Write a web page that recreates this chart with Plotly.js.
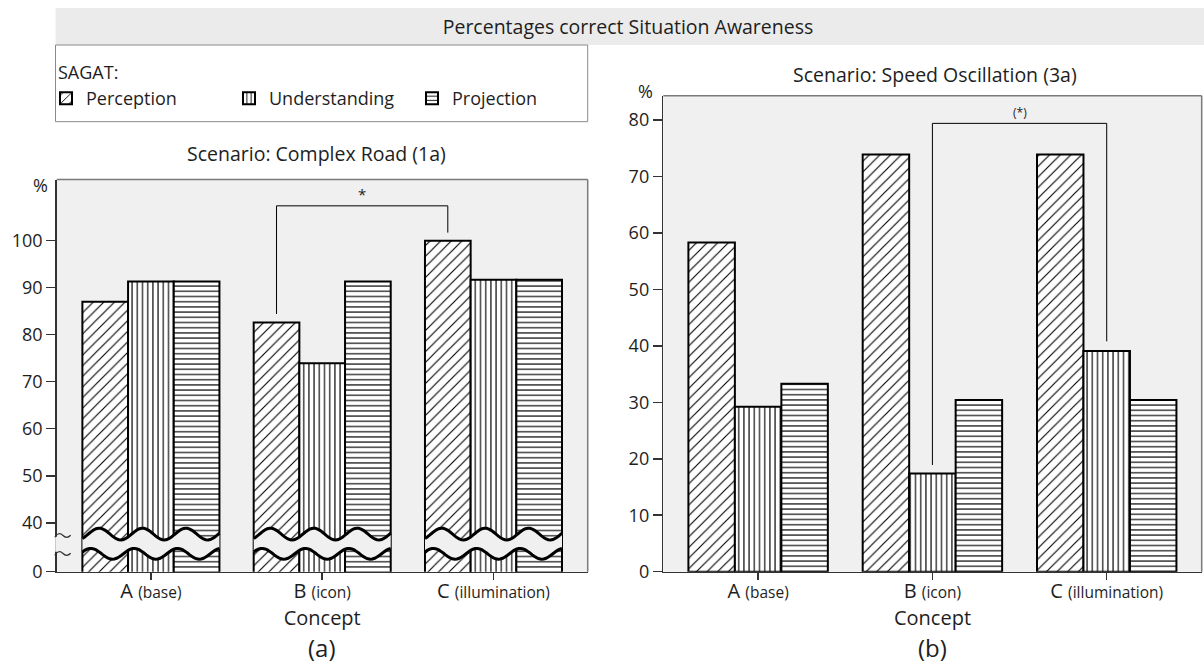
<!DOCTYPE html>
<html><head><meta charset="utf-8">
<script src="https://cdn.plot.ly/plotly-3.0.1.min.js"></script>
<style>html,body{margin:0;padding:0;background:#fff}#chart{width:1204px;height:668px}</style>
</head><body><div id="chart"></div>
<script>
// ---------------- data ----------------
const categories = ['A', 'B', 'C'];
const categoryNotes = ['(base)', '(icon)', '(illumination)'];
const seriesNames = ['Perception', 'Understanding', 'Projection'];

// Scenario: Complex Road (1a), percent correct
const roadPerception    = [87.0, 82.6, 100.0];
const roadUnderstanding = [91.3, 73.9, 91.7];
const roadProjection    = [91.3, 91.3, 91.7];

// Scenario: Speed Oscillation (3a), percent correct
const speedPerception    = [58.3, 73.9, 73.9];
const speedUnderstanding = [29.2, 17.4, 39.1];
const speedProjection    = [33.3, 30.4, 30.4];

const roadTickVals  = [40, 50, 60, 70, 80, 90, 100];
const speedTickVals = [0, 10, 20, 30, 40, 50, 60, 70, 80];

// ---------------- styling / geometry ----------------
const W = 1204, H = 668;
const px = v => v / W;
const py = v => 1 - v / H;
const FONT = 'Open Sans, Noto Sans, DejaVu Sans, sans-serif';
const TXT = '#1e1e1e';
const PLOTBG = '#f0f0f0';
const BARGAP = 0.2;
const BARW = (1 - BARGAP) / 3;
const ROAD_AXIS_BOTTOM = 29.6;   // where the broken axis shows "0"

const patterns = [
  {shape: '/', size: 7.5, solidity: 0.15},
  {shape: '|', size: 5.2, solidity: 0.22},
  {shape: '-', size: 5.2, solidity: 0.22}
];

function makeTraces(seriesList, xa, ya, showlegend) {
  return seriesList.map((vals, i) => ({
    type: 'bar', name: seriesNames[i], x: categories, y: vals,
    xaxis: xa, yaxis: ya, showlegend: showlegend, hoverinfo: 'skip',
    marker: {
      color: '#ffffff',
      line: {color: '#000000', width: 2},
      pattern: {shape: patterns[i].shape, size: patterns[i].size, solidity: patterns[i].solidity,
                fgcolor: '#000000', bgcolor: '#ffffff'}
    }
  }));
}

const data = [
  ...makeTraces([roadPerception, roadUnderstanding, roadProjection], 'x', 'y', true),
  ...makeTraces([speedPerception, speedUnderstanding, speedProjection], 'x2', 'y2', false)
];

const tickText = categories.map((c, i) => c + ' <span style="font-size:15.5px">' + categoryNotes[i] + '</span>');

// ---------------- shapes ----------------
const shapes = [];
// title band
shapes.push({type: 'rect', xref: 'paper', yref: 'paper', x0: px(55.5), x1: 1, y0: py(45), y1: py(8),
  fillcolor: '#ebebeb', line: {width: 0}, layer: 'below'});
// legend box
shapes.push({type: 'rect', xref: 'paper', yref: 'paper', x0: px(55.5), x1: px(587.7), y0: py(121.7), y1: py(45),
  fillcolor: '#ffffff', line: {color: '#8a8a8a', width: 1}, layer: 'below'});
// top/right box edges of both plots
[['x', 'y'], ['x2', 'y2']].forEach(([xa, ya]) => {
  shapes.push({type: 'line', xref: xa + ' domain', yref: ya + ' domain', x0: 0, x1: 1, y0: 1, y1: 1,
    line: {color: '#7a7a7a', width: 1.5}, layer: 'above'});
  shapes.push({type: 'line', xref: xa + ' domain', yref: ya + ' domain', x0: 1, x1: 1, y0: 0, y1: 1,
    line: {color: '#7a7a7a', width: 1.5}, layer: 'above'});
});

// axis break (wavy) over the bars of the left chart
const BRK = {up: 37.6, low: 33.4, ampUp: 1.25, ampLow: 1.15, pxPerX: 171.2};
function wave(x0, x1, c, amp, peakPx, dir) {
  const period = BARW * 0.95;
  const peak = peakPx / BRK.pxPerX;
  const pts = [];
  const n = 60;
  for (let k = 0; k <= n; k++) {
    const x = x0 + (x1 - x0) * k / n;
    const y = c + amp * Math.sin(2 * Math.PI * (x - x0 - peak) / period + Math.PI / 2);
    pts.push([x, y]);
  }
  if (dir < 0) pts.reverse();
  return pts;
}
const ptsToPath = (pts, start) => pts.map((p, k) => (k === 0 && start ? 'M' : 'L') + p[0].toFixed(4) + ',' + p[1].toFixed(3)).join(' ');
categories.forEach((c, i) => {
  const x0 = i - (1 - BARGAP) / 2, x1 = i + (1 - BARGAP) / 2;
  const up = wave(x0, x1, BRK.up, BRK.ampUp, 16.7, 1);
  const low = wave(x0, x1, BRK.low, BRK.ampLow, 8.4, -1);
  shapes.push({type: 'path', xref: 'x', yref: 'y', path: ptsToPath(up, true) + ' ' + ptsToPath(low, false) + ' Z',
    fillcolor: PLOTBG, line: {width: 0}, layer: 'above'});
  shapes.push({type: 'path', xref: 'x', yref: 'y', path: ptsToPath(up, true),
    line: {color: '#000', width: 3}, layer: 'above'});
  shapes.push({type: 'path', xref: 'x', yref: 'y', path: ptsToPath(wave(x0, x1, BRK.low, BRK.ampLow, 8.4, 1), true),
    line: {color: '#000', width: 3}, layer: 'above'});
});
// break marks on the left y axis
shapes.push({type: 'rect', xref: 'x domain', yref: 'y', xsizemode: 'pixel', xanchor: 0, x0: -1.5, x1: 1.5,
  ysizemode: 'pixel', yanchor: 40, y0: -14, y1: -29, fillcolor: PLOTBG, line: {width: 0}, layer: 'above'});
[-12.5, -30.5].forEach(dy => {
  shapes.push({type: 'path', xref: 'x domain', yref: 'y', xsizemode: 'pixel', xanchor: 0,
    ysizemode: 'pixel', yanchor: 40,
    path: `M-2,${dy - 2} Q2,${dy + 4} 6,${dy} T14,${dy}`,
    line: {color: '#333', width: 1.2}, layer: 'above'});
});

// significance brackets
function bracket(xa, ya, xL, xR, top, yL, yR) {
  shapes.push({type: 'path', xref: xa, yref: ya,
    path: `M${xL},${yL} L${xL},${top} L${xR},${top} L${xR},${yR}`,
    line: {color: '#000', width: 1}, layer: 'above'});
}
bracket('x', 'y', 1 - BARW, 2 - BARW, 107.4, roadPerception[1] + 1.8, roadPerception[2] + 1.7);
bracket('x2', 'y2', 1, 2, 79.4, speedUnderstanding[1] + 1.5, speedUnderstanding[2] + 1.7);

// ---------------- annotations ----------------
const ann = (x, y, text, size, extra) => Object.assign({xref: 'paper', yref: 'paper', x: px(x), y: py(y),
  text: text, showarrow: false, xanchor: 'center', yanchor: 'middle', font: {size: size, color: TXT}}, extra || {});
const annotations = [
  ann(316, 153, 'Scenario: Complex Road (1a)', 19.5),
  ann(935, 74, 'Scenario: Speed Oscillation (3a)', 19.5),
  ann(40, 185, '%', 18),
  ann(645, 91, '%', 18),
  ann(322, 647, '(a)', 24),
  ann(932, 647, '(b)', 24),
  ann(56, 72, 'SAGAT:', 18, {xanchor: 'left'}),
  {xref: 'x', yref: 'y', x: 1.5 - BARW, y: 107.4, text: '*', showarrow: false, yanchor: 'bottom', font: {size: 15, color: TXT}},
  {xref: 'x2', yref: 'y2', x: 1.5, y: 79.4, text: '(*)', showarrow: false, yanchor: 'bottom', font: {size: 12, color: TXT}}
];

// ---------------- axes ----------------
const xCommon = {
  type: 'category', tickmode: 'array', tickvals: categories, ticktext: tickText,
  ticks: 'outside', ticklen: 7, tickwidth: 1.5, tickcolor: '#333', ticklabelstandoff: -6,
  showline: true, linecolor: '#333', linewidth: 1.5, showgrid: false, zeroline: false,
  tickfont: {size: 20, color: TXT}, fixedrange: true,
  title: {text: 'Concept', font: {size: 20, color: TXT}, standoff: 0}
};
const yCommon = {
  ticks: 'outside', ticklen: 9, tickwidth: 1.5, tickcolor: '#333',
  showline: true, linecolor: '#333', linewidth: 1.5, showgrid: false, zeroline: false,
  tickfont: {size: 18, color: TXT}, fixedrange: true, tickmode: 'array'
};

const layout = {
  width: W, height: H, margin: {l: 0, r: 0, t: 0, b: 0},
  paper_bgcolor: '#ffffff', plot_bgcolor: PLOTBG,
  font: {family: FONT, size: 16, color: TXT},
  barmode: 'group', bargap: BARGAP, bargroupgap: 0,
  title: {text: 'Percentages correct Situation Awareness', x: px(628), xanchor: 'center', y: py(27), yanchor: 'middle',
    font: {size: 19.5, color: TXT}},
  xaxis: Object.assign({}, xCommon, {domain: [px(56.7), px(587.7)], range: [-0.55, 2.55], anchor: 'y'}),
  yaxis: Object.assign({}, yCommon, {domain: [py(571.7), py(179.5)], range: [ROAD_AXIS_BOTTOM, 113],
    tickvals: [ROAD_AXIS_BOTTOM, ...roadTickVals], ticktext: ['0', ...roadTickVals.map(String)], anchor: 'x'}),
  xaxis2: Object.assign({}, xCommon, {domain: [px(663.3), px(1201.7)], range: [-0.544, 2.545], anchor: 'y2'}),
  yaxis2: Object.assign({}, yCommon, {domain: [py(571.7), py(95.7)], range: [0, 84.3],
    tickvals: speedTickVals, ticktext: speedTickVals.map(String), anchor: 'x2'}),
  showlegend: true,
  legend: {orientation: 'h', x: px(46), xanchor: 'left', y: py(80), yanchor: 'top',
    bgcolor: 'rgba(0,0,0,0)', borderwidth: 0, traceorder: 'normal',
    font: {size: 18, color: TXT}, itemwidth: 30, entrywidth: 138, entrywidthmode: 'pixels'},
  shapes: shapes, annotations: annotations
};

Plotly.newPlot('chart', data, layout, {displayModeBar: false, staticPlot: true});
</script>
</body></html>
